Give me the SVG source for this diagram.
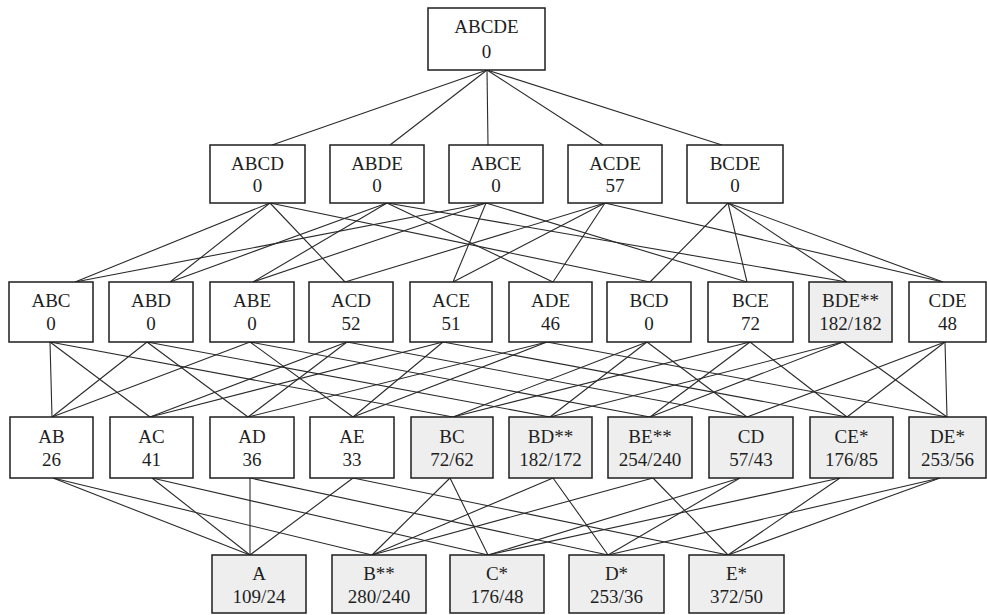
<svg xmlns="http://www.w3.org/2000/svg" width="987" height="615" viewBox="0 0 987 615">
<style>
.bx{fill:#ffffff;stroke:#1e1e1e;stroke-width:1.5}
.sh{fill:#eeeeee;stroke:#1e1e1e;stroke-width:1.5}
text{font-family:"Liberation Serif","Times New Roman",serif;font-size:19px;fill:#1e1e1e;text-anchor:middle}
#edges line{stroke:#2a2a2a;stroke-width:1.1}
</style>
<rect width="987" height="615" fill="#ffffff"/>
<g id="edges">
<line x1="487" y1="70" x2="272" y2="145"/>
<line x1="487" y1="70" x2="390" y2="145"/>
<line x1="487" y1="70" x2="488" y2="145"/>
<line x1="487" y1="70" x2="603" y2="145"/>
<line x1="487" y1="70" x2="722" y2="145"/>
<line x1="270" y1="203" x2="75" y2="282"/>
<line x1="270" y1="203" x2="170" y2="282"/>
<line x1="270" y1="203" x2="345" y2="282"/>
<line x1="270" y1="203" x2="650" y2="282"/>
<line x1="387" y1="203" x2="170" y2="282"/>
<line x1="387" y1="203" x2="253" y2="282"/>
<line x1="387" y1="203" x2="553" y2="282"/>
<line x1="387" y1="203" x2="847" y2="282"/>
<line x1="486" y1="203" x2="75" y2="282"/>
<line x1="486" y1="203" x2="253" y2="282"/>
<line x1="486" y1="203" x2="453" y2="282"/>
<line x1="486" y1="203" x2="747" y2="282"/>
<line x1="605" y1="203" x2="345" y2="282"/>
<line x1="605" y1="203" x2="453" y2="282"/>
<line x1="605" y1="203" x2="553" y2="282"/>
<line x1="605" y1="203" x2="943" y2="282"/>
<line x1="728" y1="203" x2="650" y2="282"/>
<line x1="728" y1="203" x2="747" y2="282"/>
<line x1="728" y1="203" x2="847" y2="282"/>
<line x1="728" y1="203" x2="943" y2="282"/>
<line x1="50" y1="342" x2="52" y2="417"/>
<line x1="50" y1="342" x2="150" y2="417"/>
<line x1="50" y1="342" x2="453" y2="417"/>
<line x1="147" y1="342" x2="52" y2="417"/>
<line x1="147" y1="342" x2="248" y2="417"/>
<line x1="147" y1="342" x2="550" y2="417"/>
<line x1="250" y1="342" x2="52" y2="417"/>
<line x1="250" y1="342" x2="353" y2="417"/>
<line x1="250" y1="342" x2="650" y2="417"/>
<line x1="347" y1="342" x2="150" y2="417"/>
<line x1="347" y1="342" x2="248" y2="417"/>
<line x1="347" y1="342" x2="747" y2="417"/>
<line x1="443" y1="342" x2="150" y2="417"/>
<line x1="443" y1="342" x2="353" y2="417"/>
<line x1="443" y1="342" x2="847" y2="417"/>
<line x1="547" y1="342" x2="248" y2="417"/>
<line x1="547" y1="342" x2="353" y2="417"/>
<line x1="547" y1="342" x2="947" y2="417"/>
<line x1="647" y1="342" x2="453" y2="417"/>
<line x1="647" y1="342" x2="550" y2="417"/>
<line x1="647" y1="342" x2="747" y2="417"/>
<line x1="750" y1="342" x2="453" y2="417"/>
<line x1="750" y1="342" x2="650" y2="417"/>
<line x1="750" y1="342" x2="847" y2="417"/>
<line x1="843" y1="342" x2="550" y2="417"/>
<line x1="843" y1="342" x2="650" y2="417"/>
<line x1="843" y1="342" x2="947" y2="417"/>
<line x1="945" y1="342" x2="747" y2="417"/>
<line x1="945" y1="342" x2="847" y2="417"/>
<line x1="945" y1="342" x2="947" y2="417"/>
<line x1="53" y1="478" x2="250" y2="555"/>
<line x1="53" y1="478" x2="372" y2="555"/>
<line x1="152" y1="478" x2="250" y2="555"/>
<line x1="152" y1="478" x2="488" y2="555"/>
<line x1="250" y1="478" x2="250" y2="555"/>
<line x1="250" y1="478" x2="608" y2="555"/>
<line x1="353" y1="478" x2="250" y2="555"/>
<line x1="353" y1="478" x2="728" y2="555"/>
<line x1="450" y1="478" x2="372" y2="555"/>
<line x1="450" y1="478" x2="488" y2="555"/>
<line x1="553" y1="478" x2="372" y2="555"/>
<line x1="553" y1="478" x2="608" y2="555"/>
<line x1="653" y1="478" x2="372" y2="555"/>
<line x1="653" y1="478" x2="728" y2="555"/>
<line x1="740" y1="478" x2="488" y2="555"/>
<line x1="740" y1="478" x2="608" y2="555"/>
<line x1="840" y1="478" x2="488" y2="555"/>
<line x1="840" y1="478" x2="728" y2="555"/>
<line x1="940" y1="478" x2="608" y2="555"/>
<line x1="940" y1="478" x2="728" y2="555"/>
</g>

<g id="n-ABCDE"><rect class="bx" x="428" y="8" width="117" height="62"/><text x="486.5" y="33">ABCDE</text><text x="486.5" y="58">0</text></g>

<g id="n-ABCD"><rect class="bx" x="210" y="145" width="95" height="58"/><text x="257.5" y="170">ABCD</text><text x="257.5" y="192">0</text></g>
<g id="n-ABDE"><rect class="bx" x="330" y="145" width="94" height="58"/><text x="377" y="170">ABDE</text><text x="377" y="192">0</text></g>
<g id="n-ABCE"><rect class="bx" x="449" y="145" width="94" height="58"/><text x="496" y="170">ABCE</text><text x="496" y="192">0</text></g>
<g id="n-ACDE"><rect class="bx" x="568" y="145" width="94" height="58"/><text x="615" y="170">ACDE</text><text x="615" y="192">57</text></g>
<g id="n-BCDE"><rect class="bx" x="687" y="145" width="96" height="58"/><text x="735" y="170">BCDE</text><text x="735" y="192">0</text></g>

<g id="n-ABC"><rect class="bx" x="9" y="282" width="84" height="60"/><text x="51" y="307">ABC</text><text x="51" y="330">0</text></g>
<g id="n-ABD"><rect class="bx" x="109" y="282" width="84" height="60"/><text x="151" y="307">ABD</text><text x="151" y="330">0</text></g>
<g id="n-ABE"><rect class="bx" x="210" y="282" width="84" height="60"/><text x="252" y="307">ABE</text><text x="252" y="330">0</text></g>
<g id="n-ACD"><rect class="bx" x="309" y="282" width="84" height="60"/><text x="351" y="307">ACD</text><text x="351" y="330">52</text></g>
<g id="n-ACE"><rect class="bx" x="410" y="282" width="82" height="60"/><text x="451" y="307">ACE</text><text x="451" y="330">51</text></g>
<g id="n-ADE"><rect class="bx" x="509" y="282" width="83" height="60"/><text x="550.5" y="307">ADE</text><text x="550.5" y="330">46</text></g>
<g id="n-BCD"><rect class="bx" x="607" y="282" width="84" height="60"/><text x="649" y="307">BCD</text><text x="649" y="330">0</text></g>
<g id="n-BCE"><rect class="bx" x="708" y="282" width="85" height="60"/><text x="750.5" y="307">BCE</text><text x="750.5" y="330">72</text></g>
<g id="n-BDE"><rect class="sh" x="809" y="282" width="83" height="60"/><text x="850.5" y="307">BDE**</text><text x="850.5" y="330">182/182</text></g>
<g id="n-CDE"><rect class="bx" x="909" y="282" width="77" height="60"/><text x="947.5" y="307">CDE</text><text x="947.5" y="330">48</text></g>

<g id="n-AB"><rect class="bx" x="10" y="417" width="83" height="61"/><text x="51.5" y="443">AB</text><text x="51.5" y="466">26</text></g>
<g id="n-AC"><rect class="bx" x="110" y="417" width="83" height="61"/><text x="151.5" y="443">AC</text><text x="151.5" y="466">41</text></g>
<g id="n-AD"><rect class="bx" x="210" y="417" width="84" height="61"/><text x="252" y="443">AD</text><text x="252" y="466">36</text></g>
<g id="n-AE"><rect class="bx" x="310" y="417" width="84" height="61"/><text x="352" y="443">AE</text><text x="352" y="466">33</text></g>
<g id="n-BC"><rect class="sh" x="411" y="417" width="82" height="61"/><text x="452" y="443">BC</text><text x="452" y="466">72/62</text></g>
<g id="n-BD"><rect class="sh" x="509" y="417" width="83" height="61"/><text x="550.5" y="443">BD**</text><text x="550.5" y="466">182/172</text></g>
<g id="n-BE"><rect class="sh" x="608" y="417" width="84" height="61"/><text x="650" y="443">BE**</text><text x="650" y="466">254/240</text></g>
<g id="n-CD"><rect class="sh" x="709" y="417" width="84" height="61"/><text x="751" y="443">CD</text><text x="751" y="466">57/43</text></g>
<g id="n-CE"><rect class="sh" x="810" y="417" width="83" height="61"/><text x="851.5" y="443">CE*</text><text x="851.5" y="466">176/85</text></g>
<g id="n-DE"><rect class="sh" x="909" y="417" width="77" height="61"/><text x="947.5" y="443">DE*</text><text x="947.5" y="466">253/56</text></g>

<g id="n-A"><rect class="sh" x="212" y="555" width="94" height="58"/><text x="259" y="580">A</text><text x="259" y="603">109/24</text></g>
<g id="n-B"><rect class="sh" x="332" y="555" width="94" height="58"/><text x="379" y="580">B**</text><text x="379" y="603">280/240</text></g>
<g id="n-C"><rect class="sh" x="450" y="555" width="94" height="58"/><text x="497" y="580">C*</text><text x="497" y="603">176/48</text></g>
<g id="n-D"><rect class="sh" x="569" y="555" width="95" height="58"/><text x="616.5" y="580">D*</text><text x="616.5" y="603">253/36</text></g>
<g id="n-E"><rect class="sh" x="689" y="555" width="95" height="58"/><text x="736.5" y="580">E*</text><text x="736.5" y="603">372/50</text></g>
</svg>
